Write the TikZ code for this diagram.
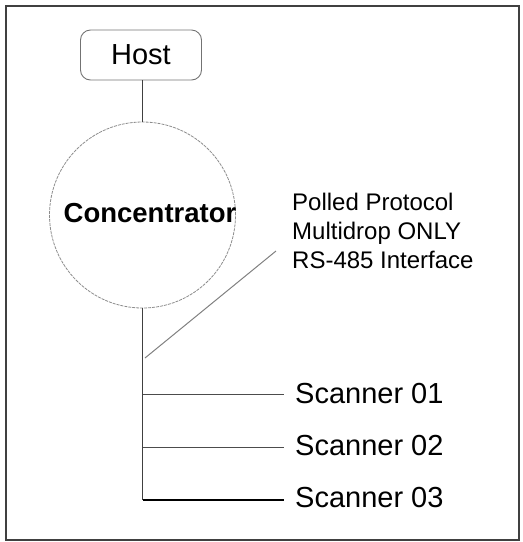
\documentclass[tikz,border=0pt]{standalone}
\usepackage{fontspec}
\setmainfont{Liberation Sans}
\begin{document}
\begin{tikzpicture}[x=1pt,y=-1pt,
  frame/.style={draw=black!75,line width=1.6pt},
  hostbox/.style={draw=black!55,line width=0.9pt,rounded corners=10pt,minimum width=121pt,minimum height=50pt,inner sep=0pt,font=\fontsize{29}{32}\selectfont},
  hub/.style={circle,draw=black!45,line width=0.8pt,dash pattern=on 3pt off 1pt,minimum size=186pt,inner sep=0pt},
  scanner/.style={anchor=base west,inner sep=0pt,inner xsep=11pt,font=\fontsize{29}{32}\selectfont},
  wire/.style={draw=black!75,line width=1pt},
  pointer/.style={draw=black!50,line width=1pt},
  note/.style={anchor=north west,align=left,inner sep=0pt,font=\fontsize{24}{29}\selectfont}
]
\useasboundingbox (0,0) rectangle (523,542);
\draw[frame] (6,6) rectangle (519,540);
\node[hostbox] (host) at (141,55) {Host};
\node[hub] (conc) at (142.5,215) {};
\node[anchor=base,inner sep=0pt,font=\fontsize{27.5}{30}\selectfont\bfseries] (conclabel) at (150,222) {Concentrator};
\draw[wire] (host.south -| conc.north) -- (conc.north);
\coordinate (bus) at (142.5,500);
\coordinate (j1) at (142.5,394);
\coordinate (j2) at (142.5,447);
\coordinate (j3) at (142.5,500);
\node[scanner] (s1) at (284,403) {Scanner 01};
\node[scanner] (s2) at (284,455) {Scanner 02};
\node[scanner] (s3) at (284,507) {Scanner 03};
\draw[wire] (conc.south) -- (bus);
\draw[wire,draw=black!70] (j1) -- (j1 -| s1.west);
\draw[wire,draw=black!70] (j2) -- (j2 -| s2.west);
\draw[draw=black,line width=1.8pt] (j3) -- (j3 -| s3.west);
\node[note] (proto) at (292,193) {Polled Protocol\\Multidrop ONLY\\RS-485 Interface};
\coordinate (ptail) at (145,358);
\coordinate (phead) at (276,251);
\draw[pointer] (ptail) -- (phead);
\end{tikzpicture}
\end{document}
